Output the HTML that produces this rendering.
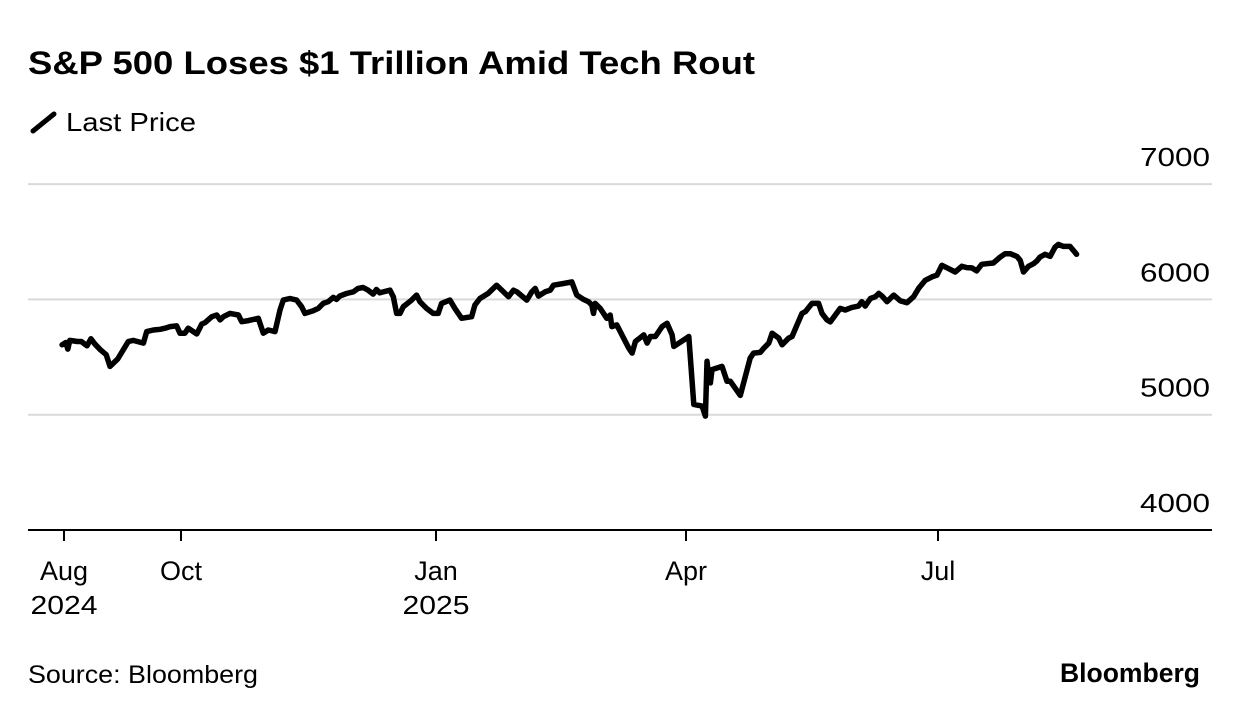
<!DOCTYPE html>
<html><head><meta charset="utf-8"><style>
body{margin:0;background:#fff;font-family:"Liberation Sans",Arial,sans-serif;}
#wrap{position:relative;width:1240px;height:716px;overflow:hidden;}
</style></head><body>
<div id="wrap">
<svg id="chart" width="1240" height="716" xmlns="http://www.w3.org/2000/svg">
<text x="28" y="74" font-size="32" font-weight="bold" fill="#000" textLength="727" lengthAdjust="spacingAndGlyphs">S&amp;P 500 Loses $1 Trillion Amid Tech Rout</text>
<g>
<line x1="33" y1="131" x2="54" y2="114" stroke="#000" stroke-width="5" stroke-linecap="round"/>
<text x="66" y="131" font-size="26" fill="#000" textLength="130" lengthAdjust="spacingAndGlyphs">Last Price</text>
</g>
<g id="grid"></g><g id="yticks"></g><g id="xticks"></g><g id="series"></g>
<text x="28" y="683" font-size="25" fill="#000" textLength="230" lengthAdjust="spacingAndGlyphs">Source: Bloomberg</text>
<text x="1060" y="682" font-size="27" font-weight="bold" fill="#000" textLength="140" lengthAdjust="spacingAndGlyphs">Bloomberg</text>
</svg>
</div>
<script>
const yTicks=[4000,5000,6000,7000];
const xTickDays=[0,61,153,243,334];
const xTickLabels=["Aug","Oct","Jan","Apr","Jul"];
const xTickYears=["2024","","2025","",""];
const days=[-1,1,2,3,7,9,12,14,16,19,22,24,28,33.5,36.1,41.4,43.1,46.6,50.1,52.7,55.3,58.7,60.5,62.4,63.6,66.7,68.5,69.7,72.1,73.9,75.1,76.3,78.7,81.7,82.9,85.3,88.9,90.7,92.5,94.9,96.7,97.9,100.3,102.7,104.5,105.7,108.7,110.5,112.3,114.1,115.9,117.1,118.3,120.7,123.2,124.9,126.7,128.5,130.3,131.5,132.7,136.4,137.6,138.8,140,141.2,144.2,146,147.2,149.6,152,153.8,155,158,159.8,162.2,165.8,167,168.8,171.8,174.8,176.7,179.1,180.9,182.1,185.7,187.5,188.7,189.9,192.3,194.1,195.3,198.9,201.9,203.7,206.1,207.9,209.1,209.7,210.3,212.1,214.5,215.7,216.3,218.1,222.4,223.6,224.8,227.8,229,230.2,232,234.4,236.2,238,238.6,242.2,244,245.8,248.8,250,250.6,251.2,251.8,252.4,254.2,256,257.8,259,262.6,266.2,267.4,269.8,271.1,272.9,274.1,276.5,277.7,280.1,281.3,283.1,284.9,286.1,288.5,290.9,292.1,293.9,295.1,298.7,300.5,302.9,305.3,306.5,307.7,309.6,311.4,312.6,313.8,315.6,318,320.4,322.8,325.2,327,329.4,331.8,333.6,335.4,337.8,340.2,342.6,344.4,346.2,348,349.8,351.6,354,356.5,358.3,360.1,362.5,363.7,364.9,366.7,368.5,369.7,370.9,372.7,374.5,376.3,377.5,379.3,381.7,384.1];
const prices=[5606,5626,5569,5644,5635,5635,5598,5658,5615,5563,5520,5419,5483,5635,5644,5621,5721,5735,5741,5750,5764,5770,5707,5707,5750,5701,5787,5799,5850,5865,5822,5850,5879,5865,5807,5816,5836,5707,5735,5721,5908,5994,6008,5994,5937,5879,5902,5922,5965,5980,6017,6000,6029,6051,6066,6095,6103,6080,6046,6086,6057,6080,6023,5879,5879,5937,5994,6037,5980,5922,5879,5879,5965,5994,5922,5836,5850,5951,6008,6052,6123,6080,6023,6080,6066,5994,6066,6095,6029,6066,6080,6123,6138,6152,6037,6000,5980,5951,5879,5965,5922,5836,5865,5764,5779,5577,5534,5635,5692,5621,5678,5678,5764,5793,5692,5592,5649,5678,5089,5075,4988,5463,5333,5276,5391,5405,5419,5290,5290,5167,5491,5534,5540,5577,5621,5707,5664,5606,5664,5678,5779,5879,5894,5965,5965,5879,5822,5805,5922,5908,5931,5942,5980,5942,6008,6023,6052,6029,5980,6037,5988,5971,6023,6095,6166,6195,6210,6296,6267,6238,6287,6276,6273,6247,6304,6310,6316,6368,6396,6396,6373,6339,6238,6287,6310,6333,6368,6391,6373,6454,6477,6460,6460,6391];

const NS="http://www.w3.org/2000/svg";
const anchorDays=[0,61,153,243,334,420];
const anchorPx=[64,181,436,686,938,1176];
function xScale(d){
  let i=0;
  while(i<anchorDays.length-2&&d>anchorDays[i+1])i++;
  const t=(d-anchorDays[i])/(anchorDays[i+1]-anchorDays[i]);
  return anchorPx[i]+t*(anchorPx[i+1]-anchorPx[i]);
}
function yScale(v){return 530-(v-4000)*0.1153;}
function mk(tag,attrs,parent){const e=document.createElementNS(NS,tag);for(const k in attrs)e.setAttribute(k,attrs[k]);parent.appendChild(e);return e;}

const grid=document.getElementById('grid'),yt=document.getElementById('yticks'),xt=document.getElementById('xticks'),ser=document.getElementById('series');
yTicks.forEach(v=>{
  const y=yScale(v);
  if(v>4000){
    const g=mk('line',{x1:28,x2:1212,y1:y,y2:y,stroke:'#d9d9d9','stroke-width':2},grid);
    
    
  }
  const t=mk('text',{x:1210,y:y-18,'font-size':26,'text-anchor':'end',fill:'#000',textLength:70,lengthAdjust:'spacingAndGlyphs'},yt);
  t.textContent=v;
  
  
});
const base=mk('line',{x1:28,x2:1212,y1:530,y2:530,stroke:'#000','stroke-width':2},grid);


xTickDays.forEach((d,i)=>{
  const x=xScale(d);
  const tk=mk('line',{x1:x,x2:x,y1:530,y2:541,stroke:'#000','stroke-width':2},xt);
  
  
  const t=mk('text',{x:x,y:580,'font-size':27,'text-anchor':'middle',fill:'#000'},xt);
  t.textContent=xTickLabels[i];
  
  
  if(xTickYears[i]){
    const y2=mk('text',{x:x,y:614,'font-size':26,'text-anchor':'middle',fill:'#000',textLength:67,lengthAdjust:'spacingAndGlyphs'},xt);
    y2.textContent=xTickYears[i];
    
    
  }
});
const pts=days.map((d,i)=>xScale(d).toFixed(1)+','+yScale(prices[i]).toFixed(1)).join(' ');
const line=mk('polyline',{points:pts,fill:'none',stroke:'#000','stroke-width':5.5,'stroke-linejoin':'round','stroke-linecap':'round'},ser);


</script>
</body></html>
